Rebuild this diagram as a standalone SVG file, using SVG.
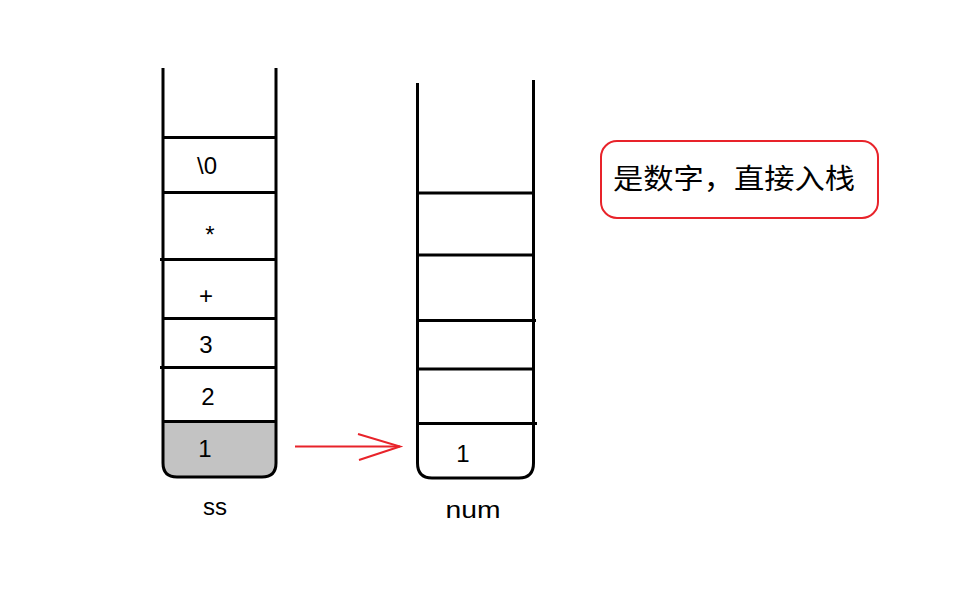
<svg xmlns="http://www.w3.org/2000/svg" width="973" height="610" viewBox="0 0 973 610">
<style>
.wall{fill:none;stroke:#000;stroke-width:3;stroke-linecap:butt}
.t{font-family:"Liberation Sans","DejaVu Sans",sans-serif;font-size:24px;fill:#000;text-anchor:middle}
.red{fill:none;stroke:#e8232a;stroke-width:2}
.cn{font-family:"Noto Sans CJK SC","Noto Sans",sans-serif;font-size:28px;fill:#000}
</style>
<rect width="973" height="610" fill="#fff"/>
<g id="ss">
<path d="M163,422 H276 V463 Q276,477 262,477 H177 Q163,477 163,463 Z" fill="#c3c3c3" stroke="none"/>
<path class="wall" d="M163,68 V463 Q163,477 177,477 H262 Q276,477 276,463 V68"/>
<line class="wall" x1="163" y1="137.5" x2="276" y2="137.5"/>
<line class="wall" x1="163" y1="192.5" x2="276" y2="192.5"/>
<line class="wall" x1="160" y1="259.5" x2="276" y2="259.5"/>
<line class="wall" x1="163" y1="318.5" x2="276" y2="318.5"/>
<line class="wall" x1="160" y1="367.5" x2="276" y2="367.5"/>
<line class="wall" x1="163" y1="421.5" x2="276" y2="421.5"/>
<text class="t" x="207" y="174">\0</text>
<text class="t" x="210" y="243">*</text>
<text class="t" x="206" y="304">+</text>
<text class="t" x="206" y="353">3</text>
<text class="t" x="208" y="405">2</text>
<text class="t" x="205" y="457">1</text>
<text class="t" x="215" y="515">ss</text>
</g>
<g id="num">
<path class="wall" d="M417.5,83 V463 Q417.5,478 432,478 H519 Q533.5,478 533.5,463 V80"/>
<line class="wall" x1="417" y1="193" x2="534" y2="193"/>
<line class="wall" x1="417" y1="255" x2="534" y2="255"/>
<line class="wall" x1="417" y1="320.5" x2="536" y2="320.5"/>
<line class="wall" x1="417" y1="369" x2="534" y2="369"/>
<line class="wall" x1="417" y1="423.5" x2="537" y2="423.5"/>
<text class="t" x="463" y="462">1</text>
<text class="t" x="473" y="518" textLength="55" lengthAdjust="spacingAndGlyphs">num</text>
</g>
<g id="connectors">
<line class="red" x1="295" y1="446.5" x2="400" y2="446.5"/>
<polyline class="red" points="358,434 400,446.5 359,460"/>
</g>
<g id="callout">
<rect class="red" x="601" y="141" width="277" height="77" rx="16" ry="16"/>
<text class="cn" x="613" y="189" textLength="242" lengthAdjust="spacingAndGlyphs">是数字，直接入栈</text>
</g>
</svg>
